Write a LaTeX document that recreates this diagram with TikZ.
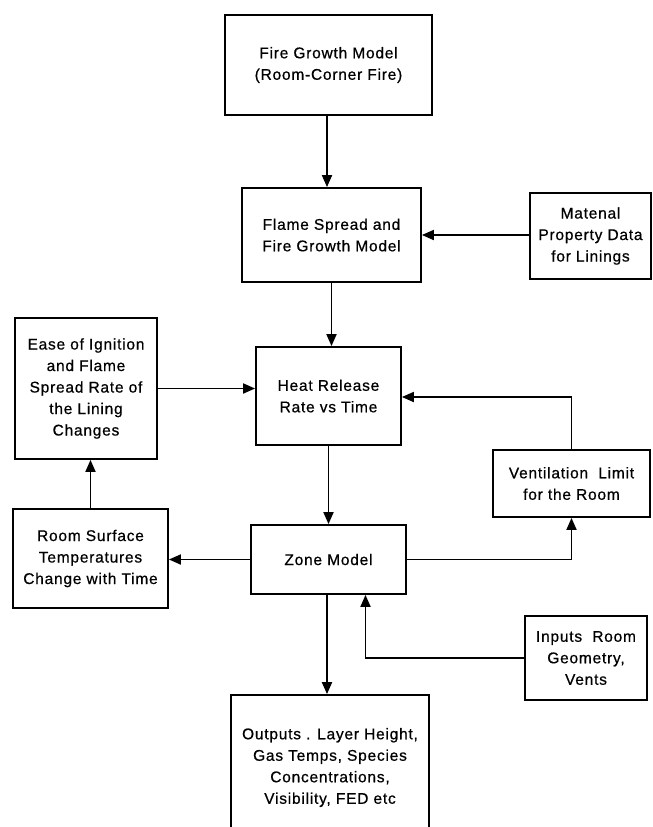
\documentclass[tikz,border=0pt]{standalone}
\usepackage{fontspec}
\setmainfont{Liberation Sans}[LetterSpace=5, FakeBold=0.6]
\usetikzlibrary{arrows.meta}
\begin{document}
\begin{tikzpicture}[x=1pt,y=-1pt,
  box/.style={draw, line width=1.8pt, rectangle, align=center, inner sep=0pt,
    font=\fontsize{15.5}{21.5}\selectfont},
  conn/.style={line width=1.8pt, -{Triangle[length=12pt,width=10pt]}}]
\clip (0,0) rectangle (653,827);
\fill[white] (0,0) rectangle (653,827);
\node[box, minimum width=207pt, minimum height=100pt] (fire) at (328.5,65)
  {Fire Growth Model\\(Room-Corner Fire)};
\node[box, minimum width=179pt, minimum height=94pt] (flame) at (331.5,235)
  {Flame Spread and\\Fire Growth Model};
\node[box, minimum width=121pt, minimum height=86pt] (material) at (590.5,236)
  {Matenal\\Property Data\\for Linings};
\node[box, minimum width=145pt, minimum height=98pt] (heat) at (328.5,396)
  {Heat Release\\Rate vs Time};
\node[box, minimum width=142pt, minimum height=141pt] (ease) at (86,388.5)
  {Ease of Ignition\\and Flame\\Spread Rate of\\the Lining\\Changes};
\node[box, minimum width=155pt, minimum height=99pt] (room) at (90.5,558.5)
  {Room Surface\\Temperatures\\Change with Time};
\node[box, minimum width=155pt, minimum height=69pt] (zone) at (328.5,559.5)
  {Zone Model};
\node[box, minimum width=157pt, minimum height=67pt] (vent) at (571.5,483.5)
  {Ventilation\ \ Limit\\for the Room};
\node[box, minimum width=122pt, minimum height=84pt] (inputs) at (586,658)
  {Inputs\ \ Room\\Geometry,\\Vents};
\node[box, minimum width=198pt, minimum height=145pt] (outputs) at (330,767.5)
  {Outputs . Layer Height,\\Gas Temps, Species\\Concentrations,\\Visibility, FED etc};
\coordinate (inz) at ([xshift=37pt]zone.south);
\draw[conn] ([xshift=-1.5pt]fire.south) -- ([xshift=-1.5pt]fire.south |- flame.north);
\draw[conn] (material.west |- flame.east) -- (flame.east);
\draw[conn] (flame.south) -- (flame.south |- heat.north);
\draw[conn] (ease.east) -- (ease.east -| heat.west);
\draw[conn] (vent.north) |- ([yshift=-1pt]heat.east);
\draw[conn] (heat.south) -- (zone.north);
\draw[conn] (zone.west) -- (zone.west -| room.east);
\draw[conn] (zone.east) -| (vent.south);
\draw[conn] (room.north) -- (room.north |- ease.south);
\draw[conn] (inputs.west) -| (inz);
\draw[conn] ([xshift=-1.5pt]zone.south) -- ([xshift=-1.5pt]zone.south |- outputs.north);
\end{tikzpicture}
\end{document}
